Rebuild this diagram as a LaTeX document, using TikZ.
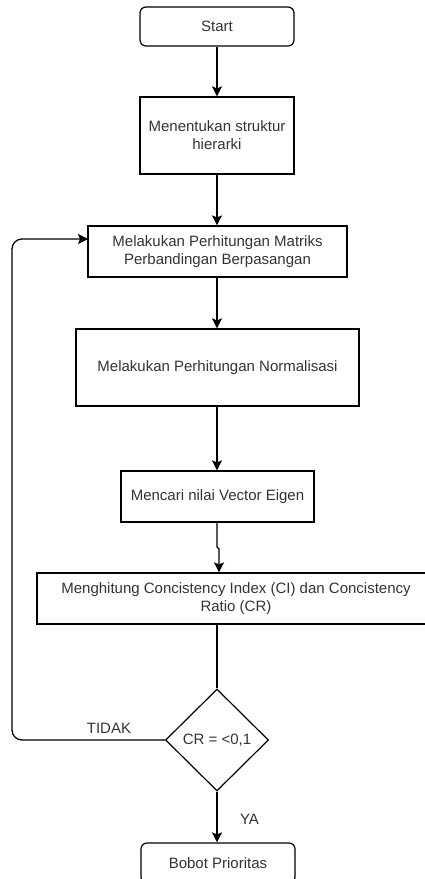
\documentclass[tikz,border=0pt]{standalone}
\usepackage{fontspec}
\setmainfont{Liberation Sans}
\usetikzlibrary{shapes.geometric,arrows.meta}
\definecolor{textgray}{HTML}{333333}

\begin{document}
\begin{tikzpicture}[x = 1pt, y = -1pt,
        every node/.style = {font = \fontsize{15}{18}\selectfont, text = textgray},
        stepbox/.style = {draw = black, line width = 1.2pt, rectangle, inner sep = 0pt, align = center},
        endbox/.style = {stepbox, rounded corners = 6pt},
        choice/.style = {draw = black, line width = 1.2pt, diamond, aspect = 1, inner sep = 0pt, minimum width = 103pt, minimum height = 102pt},
        line/.style = {line width = 1.3pt},
        arrow/.style = {line, -{Stealth[length = 10pt, width = 10pt, inset = 2pt]}}]
        \clip (0, 0) rectangle (425, 879);

        % Nodes
        \node [endbox, minimum width = 154pt, minimum height = 39pt] (start) at (217, 26.5) {Start};
        \node [stepbox, minimum width = 154pt, minimum height = 77pt] (struktur) at (217, 135.5) {Menentukan struktur\\hierarki};
        \node [stepbox, minimum width = 259pt, minimum height = 51pt] (matriks) at (217.5, 251.5) {Melakukan Perhitungan Matriks\\Perbandingan Berpasangan};
        \node [stepbox, minimum width = 283pt, minimum height = 77pt] (normal) at (217.5, 367.5) {Melakukan Perhitungan Normalisasi};
        \node [stepbox, minimum width = 193pt, minimum height = 51pt] (eigen) at (217.5, 496.5) {Mencari nilai Vector Eigen};
        \node [stepbox, minimum width = 398pt, minimum height = 51pt] (ci) at (236, 598.5) {Menghitung Concistency Index (CI) dan Concistency\\Ratio (CR)};
        \node [choice] (cr) at (217, 740) {CR = <0,1};
        \node [endbox, minimum width = 154pt, minimum height = 40pt] (bobot) at (218, 863) {Bobot Prioritas};

        % Points
        \coordinate (jog) at (217, 547);
        \coordinate (jogb) at (219, 549);
        \coordinate (loopcorner) at (12, 239);
        \coordinate (loopin) at (88, 239);

        % Lines
        \draw [arrow] (start) -- (struktur);
        \draw [arrow] (struktur) -- (struktur |- matriks.north);
        \draw [arrow] (matriks.south -| start) -- (normal.north -| start);
        \draw [arrow] (normal.south -| start) -- (eigen.north -| start);
        \draw [arrow] (eigen.south -| start) -- (jog) -- (jogb) -- (jogb |- ci.north);
        \draw [line] (ci.south -| cr) -- (cr.north);
        \draw [arrow, rounded corners = 10pt] (cr.west) -| (loopcorner) -- (loopin);
        \draw [arrow] (cr.south) -- (cr.south |- bobot.north);

        % Labels
        \node (tidak) at (109, 728) {TIDAK};
        \node (ya) at (249.5, 819) {YA};

    \end{tikzpicture}
\end{document}
